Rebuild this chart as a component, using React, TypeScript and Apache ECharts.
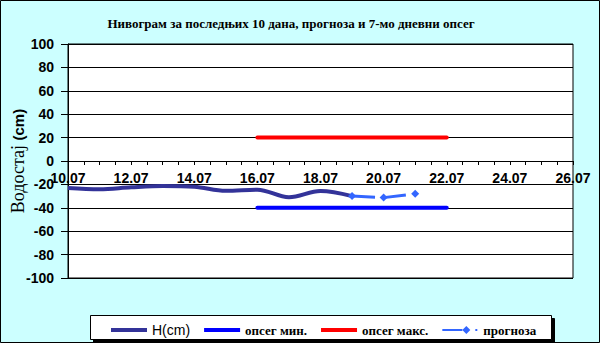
import React, { useEffect, useRef } from "react";
import * as echarts from "echarts";

const hDates = ["10.07", "11.07", "12.07", "13.07", "14.07", "15.07", "16.07", "17.07", "18.07", "19.07"];
const hValues = [-23, -24.2, -22.5, -21.4, -22, -25.5, -24.5, -31, -25.6, -30];

const forecastDates = ["19.07", "20.07", "21.07"];
const forecastValues = [-30, -31.3, -28];

const bandDates = ["16.07", "17.07", "18.07", "19.07", "20.07", "21.07", "22.07"];
const bandMin = [-40, -40, -40, -40, -40, -40, -40];
const bandMax = [20, 20, 20, 20, 20, 20, 20];

const xTickDays = [10, 12, 14, 16, 18, 20, 22, 24, 26];
const yTicks = [-100, -80, -60, -40, -20, 0, 20, 40, 60, 80, 100];

const dayOf = (d: string) => parseFloat(d.split(".")[0]);
const pairs = (dates: string[], vals: number[]) => dates.map((d, i) => [dayOf(d), vals[i]]);

const barIcon = "path://M0,0M36,10M0,3H36V7H0Z";
const forecastIcon = "path://M0,0M36,10M0,4H20V6H0Z M24,1L28,5L24,9L20,5Z M33,4H35V6H33Z";

export default function App() {
  const ref = useRef<HTMLDivElement>(null);
  useEffect(() => {
    document.body.style.margin = "0";
    const chart = echarts.init(ref.current!, null, { renderer: "svg" });
    const sans = "Liberation Sans, Arial, sans-serif";
    const serif = "Liberation Serif, Times New Roman, serif";
    chart.setOption({
      animation: false,
      backgroundColor: "#CCFFFF",
      grid: {
        left: 68,
        right: 27,
        top: 44,
        bottom: 65,
        show: true,
        containLabel: false,
        outerBoundsMode: "none",
        backgroundColor: "#FFFFFF",
        borderColor: "#000000",
        borderWidth: 1,
      },
      xAxis: {
        type: "value",
        min: xTickDays[0],
        max: xTickDays[xTickDays.length - 1],
        interval: 2,
        axisLine: { onZero: true, lineStyle: { color: "#000", width: 1 } },
        axisTick: { show: true, length: 4, lineStyle: { color: "#000" } },
        minorTick: { show: true, splitNumber: 4, length: 4, lineStyle: { color: "#000" } },
        splitLine: { show: false },
        axisLabel: {
          formatter: (v: number) => `${v}.07`,
          color: "#000",
          fontFamily: sans,
          fontWeight: "bold",
          fontSize: 14,
          margin: -107,
        },
      },
      yAxis: {
        type: "value",
        min: yTicks[0],
        max: yTicks[yTicks.length - 1],
        interval: 20,
        axisLine: { show: true, lineStyle: { color: "#000" } },
        axisTick: { show: true, length: 7, lineStyle: { color: "#000" } },
        splitLine: { show: true, lineStyle: { color: "#000", width: 1 } },
        axisLabel: {
          color: "#000",
          fontFamily: sans,
          fontWeight: "bold",
          fontSize: 14,
          margin: 14,
        },
        name: "{a|Водостај }{b|(cm)}",
        nameLocation: "middle",
        nameRotate: 90,
        nameGap: 41,
        nameMoveOverlap: false,
        nameTextStyle: {
          rich: {
            a: { fontFamily: serif, fontSize: 18, color: "#000" },
            b: { fontFamily: sans, fontSize: 15, fontWeight: "bold", color: "#000" },
          },
        },
      },
      legend: {
        left: 106,
        top: 318,
        itemWidth: 36,
        itemHeight: 10,
        itemGap: 14,
        data: [
          { name: "H(cm)", icon: barIcon },
          { name: "опсег мин.", icon: barIcon },
          { name: "опсег макс.", icon: barIcon },
          { name: "прогноза", icon: forecastIcon },
        ],
        formatter: (n: string) => (n === "H(cm)" ? `{a|${n}}` : `{b|${n}}`),
        textStyle: {
          rich: {
            a: { fontFamily: sans, fontSize: 14, color: "#000" },
            b: { fontFamily: serif, fontSize: 13, fontWeight: "bold", color: "#000" },
          },
        },
      },
      graphic: [
        {
          type: "rect",
          left: 90,
          top: 315,
          shape: { width: 461, height: 24 },
          style: { fill: "#fff", stroke: "#000", lineWidth: 1, shadowColor: "#000", shadowOffsetX: 3, shadowOffsetY: 3, shadowBlur: 0 },
          z: -1,
        },
        {
          type: "rect",
          shape: { x: 0.5, y: 0.5, width: 599, height: 342 },
          style: { fill: "none", stroke: "#000", lineWidth: 1 },
          silent: true,
        },
        {
          type: "text",
          x: 291,
          y: 23,
          style: {
            text: "Нивограм за последњих 10 дана, прогноза и 7-мо дневни опсег",
            fontFamily: serif,
            fontWeight: "bold",
            fontSize: 13,
            fill: "#000",
            align: "center",
            verticalAlign: "middle",
          },
        },
      ],
      series: [
        {
          name: "H(cm)",
          type: "line",
          data: pairs(hDates, hValues),
          smooth: 0.35,
          showSymbol: false,
          symbol: "none",
          lineStyle: { color: "#333399", width: 4 },
          itemStyle: { color: "#333399" },
          z: 3,
        },
        {
          name: "опсег мин.",
          type: "line",
          data: pairs(bandDates, bandMin),
          showSymbol: false,
          symbol: "none",
          lineStyle: { color: "#0000FF", width: 4, cap: "round" },
          itemStyle: { color: "#0000FF" },
        },
        {
          name: "опсег макс.",
          type: "line",
          data: pairs(bandDates, bandMax),
          showSymbol: false,
          symbol: "none",
          lineStyle: { color: "#FF0000", width: 4, cap: "round" },
          itemStyle: { color: "#FF0000" },
        },
        {
          name: "прогноза",
          type: "line",
          data: pairs(forecastDates, forecastValues),
          symbol: "diamond",
          symbolSize: 8,
          lineStyle: { color: "#3366FF", width: 3, type: [23, 8] },
          itemStyle: { color: "#3366FF" },
          z: 4,
        },
      ],
    });
    return () => chart.dispose();
  }, []);
  return <div ref={ref} style={{ width: 600, height: 343 }} />;
}
